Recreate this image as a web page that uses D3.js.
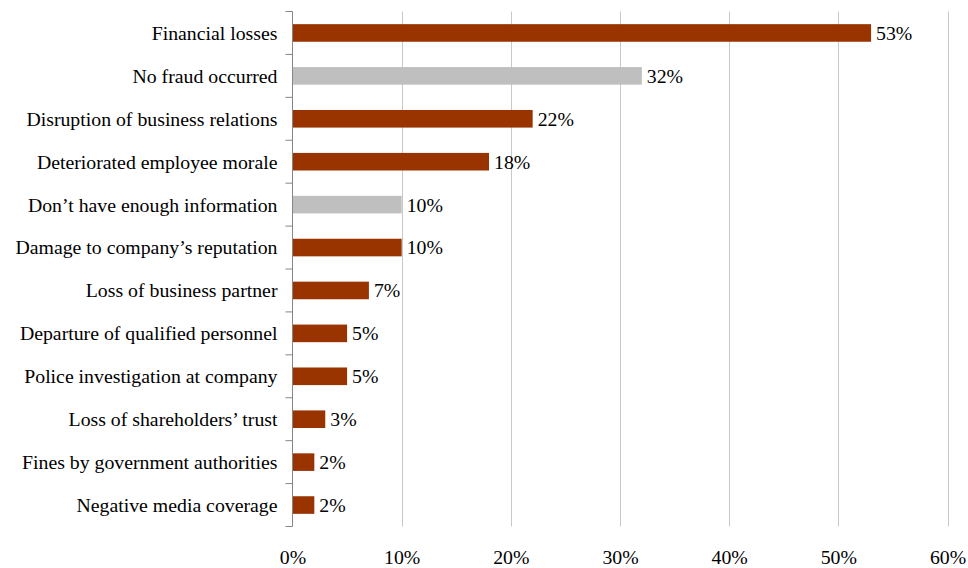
<!DOCTYPE html>
<html>
<head>
<meta charset="utf-8">
<script src="https://cdn.jsdelivr.net/npm/d3@7"></script>
<style>
  html, body { margin: 0; padding: 0; background: #fff; }
  svg { display: block; }
  text { font-family: "Liberation Serif", "Times New Roman", serif; fill: #000; }
</style>
</head>
<body>
<svg id="chart" width="968" height="568"></svg>
<script>
// Consequences of fraud, share of respondents
const categories = [
  "Financial losses",
  "No fraud occurred",
  "Disruption of business relations",
  "Deteriorated employee morale",
  "Don\u2019t have enough information",
  "Damage to company\u2019s reputation",
  "Loss of business partner",
  "Departure of qualified personnel",
  "Police investigation at company",
  "Loss of shareholders\u2019 trust",
  "Fines by government authorities",
  "Negative media coverage"
];
const values = [53, 32, 22, 18, 10, 10, 7, 5, 5, 3, 2, 2];
// Rows that are not actual consequences are drawn in grey
const neutral = [false, true, false, false, true, false, false, false, false, false, false, false];
const tickValues = [0, 10, 20, 30, 40, 50, 60];

const fontSize = 19.8;
const margin = { top: 11.5, left: 292.5, right: 20, bottom: 41.5 };
const width = 968, height = 568;
const svg = d3.select("#chart");

const x = d3.scaleLinear().domain([0, 60]).range([margin.left, 947.5]);
const y = d3.scaleBand().domain(categories)
  .range([margin.top, height - margin.bottom])
  .paddingInner(0.59).paddingOuter(0.295);

const plotTop = margin.top, plotBottom = height - margin.bottom;

// vertical gridlines
svg.append("g").selectAll("line")
  .data(tickValues.slice(1))
  .join("line")
  .attr("x1", d => Math.round(x(d)) + 0.5)
  .attr("x2", d => Math.round(x(d)) + 0.5)
  .attr("y1", plotTop).attr("y2", plotBottom)
  .attr("stroke", "#c8c8c8").attr("stroke-width", 1);

// bars
svg.append("g").selectAll("rect")
  .data(categories)
  .join("rect")
  .attr("x", x(0))
  .attr("y", d => y(d))
  .attr("width", (d, i) => x(values[i]) - x(0))
  .attr("height", y.bandwidth())
  .attr("fill", (d, i) => neutral[i] ? "#bfbfbf" : "#993300");

// value labels
svg.append("g").selectAll("text")
  .data(categories)
  .join("text")
  .attr("x", (d, i) => x(values[i]) + 5)
  .attr("y", d => y(d) + y.bandwidth() / 2)
  .attr("dy", "0.35em")
  .attr("font-size", fontSize)
  .text((d, i) => values[i] + "%");

// category axis with ticks between bands
const yAxisG = svg.append("g");
yAxisG.append("line")
  .attr("x1", margin.left).attr("x2", margin.left)
  .attr("y1", plotTop).attr("y2", plotBottom)
  .attr("stroke", "#868686");
const bounds = d3.range(categories.length + 1).map(i => plotTop + i * y.step());
yAxisG.selectAll("line.tick")
  .data(bounds)
  .join("line")
  .attr("class", "tick")
  .attr("x1", margin.left - 7).attr("x2", margin.left)
  .attr("y1", d => d).attr("y2", d => d)
  .attr("stroke", "#868686");
yAxisG.selectAll("text")
  .data(categories)
  .join("text")
  .attr("x", margin.left - 15)
  .attr("y", d => y(d) + y.bandwidth() / 2)
  .attr("dy", "0.35em")
  .attr("text-anchor", "end")
  .attr("font-size", fontSize)
  .text(d => d);

// percentage axis labels
const xAxis = d3.axisBottom(x).tickValues(tickValues).tickSize(0).tickFormat(d => d + "%");
const xg = svg.append("g")
  .attr("transform", `translate(0,${plotBottom + 20})`)
  .call(xAxis);
xg.select(".domain").remove();
xg.selectAll("text")
  .attr("font-size", fontSize)
  .attr("fill", "#000");
</script>
</body>
</html>
